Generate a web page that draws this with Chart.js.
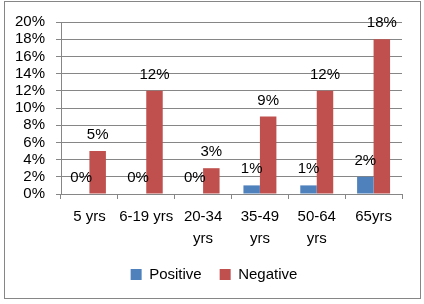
<!DOCTYPE html>
<html>
<head>
<meta charset="utf-8">
<script src="https://cdn.jsdelivr.net/npm/chart.js@4/dist/chart.umd.min.js"></script>
<style>
  html, body { margin:0; padding:0; background:#fff; }
  canvas { display:block; }
</style>
</head>
<body>
<canvas id="chartAges" width="424" height="304"></canvas>
<script>
// age groups and share of tests (%)
const ageGroups = ['5 yrs', '6-19 yrs', ['20-34', 'yrs'], ['35-49', 'yrs'], ['50-64', 'yrs'], '65yrs'];
const positive = [0, 0, 0, 1, 1, 2];
const negative = [5, 12, 3, 9, 12, 18];
const yTicksMax = 20;
const yStep = 2;

const FONT = "'Liberation Sans', Arial, sans-serif";
const GRID = '#868686';

// outer frame like the office chart box
const frame = {
  id:'frame',
  beforeDraw(chart){
    const ctx = chart.ctx;
    ctx.save();
    ctx.strokeStyle = GRID;
    ctx.lineWidth = 1;
    ctx.strokeRect(4.5, 1.5, 416, 297);
    ctx.restore();
  },
  // legend sits centred on the whole box, not just the plot
  afterLayout(chart){
    chart.legend.left += 13;
    chart.legend.right += 13;
  }
};

// value labels above each bar
const barLabels = {
  id:'barLabels',
  afterDatasetsDraw(chart){
    const ctx = chart.ctx;
    ctx.save();
    ctx.font = '15px ' + FONT;
    ctx.fillStyle = '#000';
    ctx.textAlign = 'center';
    ctx.textBaseline = 'alphabetic';
    chart.data.datasets.forEach((ds, i) => {
      chart.getDatasetMeta(i).data.forEach((bar, j) => {
        ctx.fillText(ds.data[j] + '%', bar.x, bar.y - 12);
      });
    });
    ctx.restore();
  }
};

new Chart(document.getElementById('chartAges').getContext('2d'), {
  type:'bar',
  data:{
    labels: ageGroups,
    datasets:[
      { label:'Positive', data: positive, backgroundColor:'#4F81BD' },
      { label:'Negative', data: negative, backgroundColor:'#C0504D' }
    ]
  },
  options:{
    responsive:false,
    animation:false,
    layout:{ padding:{ left:0, top:22, right:22, bottom:12 } },
    datasets:{ bar:{ categoryPercentage:0.58, barPercentage:1 } },
    plugins:{
      legend:{
        position:'bottom',
        labels:{ boxWidth:11, boxHeight:11, padding:18, color:'#000', font:{ family:FONT, size:15 } }
      },
      tooltip:{ enabled:false }
    },
    scales:{
      x:{
        afterFit(s){ s.height = 55; },
        grid:{ drawOnChartArea:false, drawTicks:true, tickLength:5, color:GRID },
        border:{ color:GRID },
        ticks:{ color:'#000', maxRotation:0, autoSkip:false, padding:7, font:{ family:FONT, size:15, lineHeight:1.45 } }
      },
      y:{
        min:0, max:yTicksMax,
        afterFit(s){ s.width = 61; },
        grid:{ color:GRID, tickLength:5 },
        border:{ color:GRID },
        ticks:{ stepSize:yStep, autoSkip:false, color:'#000', padding:11, font:{ family:FONT, size:15 }, callback:v => v + '%' }
      }
    }
  },
  plugins:[frame, barLabels]
});
</script>
</body>
</html>
